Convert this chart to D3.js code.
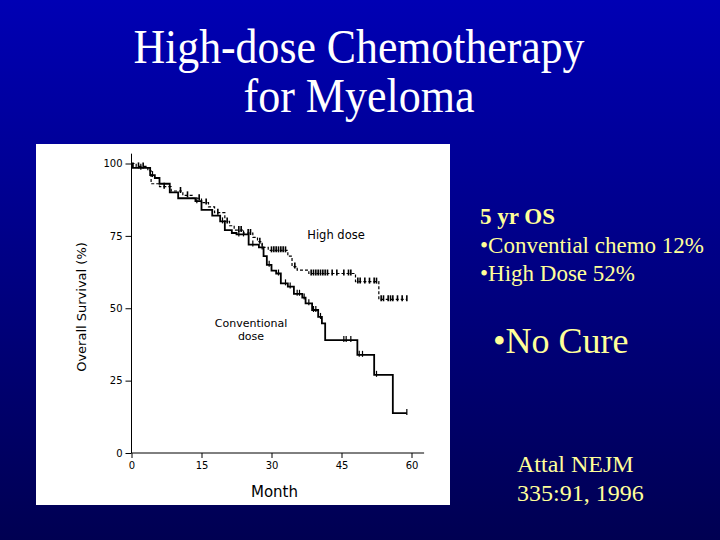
<!DOCTYPE html>
<html>
<head>
<meta charset="utf-8">
<script src="https://cdn.jsdelivr.net/npm/d3@7"></script>
<style>
  html, body { margin: 0; padding: 0; background: #000080; }
  svg { display: block; }
</style>
</head>
<body>
<svg id="slide" width="720" height="540"></svg>
<script>
// ---- data ----
const titleLines = ["High-dose Chemotherapy", "for Myeloma"]

const xTicks = [0, 15, 30, 45, 60]
const yTicks = [0, 25, 50, 75, 100]

// conventional dose: step start month / survival %
const convMonths = [0, 0.3, 4, 5, 6, 8.2, 10, 13.7, 15, 17.3, 19, 20, 21.5, 22.5, 25.1, 27.3, 28.3, 29, 30, 31, 32, 33.5, 34.8, 36.6, 37.3, 38.7, 40, 40.8, 41.5, 48.4, 52, 56]
const convSurv = [100, 98.5, 96, 95, 93, 90, 88, 87, 84, 82, 80, 77, 76, 75.5, 72, 71, 68, 65, 63, 62, 58.6, 57.5, 55, 53.7, 51.7, 49.4, 47, 44.8, 39, 33.9, 27, 13.8]
const convEnd = 59
const convCensor = [2, 4.5, 14, 19.5, 23, 24, 26, 28, 29.5, 31.5, 33, 34, 35.5, 36, 37, 38, 39, 39.5, 40.5, 45.5, 46, 47, 48.8, 49.5, 52.5, 59]

// high dose
const hdMonths = [0, 1, 3.5, 4.2, 6, 8.5, 11, 13, 15, 16.5, 17.8, 20, 21, 22, 24, 26, 27, 28, 29.3, 33.5, 34.4, 35.5, 38, 48, 53]
const hdSurv = [100, 99, 97.5, 93, 92, 90.5, 89, 88, 86.5, 85, 83, 80, 78.5, 77, 76, 74.5, 73, 71, 70, 68, 64.4, 63.2, 62, 59.2, 53.1]
const hdEnd = 59
const hdCensor = [1.5, 2.5, 7, 10.5, 12, 14.5, 16, 18.5, 20.5, 23, 23.5, 25, 25.5, 27.5, 30, 30.5, 31, 31.5, 32, 32.5, 33, 35, 38.5, 39, 39.5, 40, 40.5, 41, 41.5, 42, 43, 44, 45.5, 46.5, 47, 48.5, 49, 50, 51, 52, 52.5, 53.5, 54, 55, 55.5, 56, 57, 58, 59]

const osHeading = "5 yr OS"
const osLines = ["•Convential chemo 12%", "•High Dose 52%"]
const noCure = "•No Cure"
const citation = ["Attal NEJM", "335:91, 1996"]

// ---- drawing ----
const svg = d3.select("#slide")

const defs = svg.append("defs")
const grad = defs.append("linearGradient")
    .attr("id", "bg")
    .attr("x1", 0).attr("y1", 0).attr("x2", 0).attr("y2", 1)
grad.append("stop").attr("offset", "0%").attr("stop-color", "#0000b4")
grad.append("stop").attr("offset", "100%").attr("stop-color", "#000052")

svg.append("rect")
    .attr("width", 720)
    .attr("height", 540)
    .attr("fill", "url(#bg)")

svg.append("g")
    .selectAll("text")
    .data(titleLines)
    .join("text")
    .attr("x", 359)
    .attr("y", (d, i) => 63 + i * 49)
    .attr("text-anchor", "middle")
    .attr("font-family", "'Liberation Serif', 'Times New Roman', serif")
    .attr("font-size", 48)
    .attr("fill", "#ffffff")
    .attr("textLength", (d, i) => i == 0 ? 451 : 231)
    .attr("lengthAdjust", "spacingAndGlyphs")
    .text(d => d)

// white panel with the survival plot
svg.append("rect")
    .attr("x", 36)
    .attr("y", 144)
    .attr("width", 414)
    .attr("height", 361)
    .attr("fill", "#ffffff")

const x = d3.scaleLinear().domain([0, 60]).range([131.5, 411.5])
const y = d3.scaleLinear().domain([0, 100]).range([453, 163.5])

const plot = svg.append("g")
    .attr("font-family", "'DejaVu Sans', sans-serif")

const xAxis = plot.append("g")
    .attr("transform", `translate(0,${y(0)})`)
    .call(d3.axisBottom(x).tickValues(xTicks).tickSizeOuter(0).tickSize(5).tickPadding(4))
xAxis.select(".domain").attr("d", `M${x(0)},0H${x(62.7)}`)

const yAxis = plot.append("g")
    .attr("transform", `translate(${x(0)},0)`)
    .call(d3.axisLeft(y).tickValues(yTicks).tickSizeOuter(0).tickSize(6).tickPadding(3))
yAxis.select(".domain").attr("d", `M0,${y(0)}V${y(103.4)}`)

plot.selectAll(".tick text")
    .attr("font-size", 10)
    .attr("font-family", "'DejaVu Sans', sans-serif")
    .attr("fill", "#000")
plot.selectAll(".domain, .tick line").attr("stroke", "#000")

plot.append("text")
    .attr("x", 274.5)
    .attr("y", 497)
    .attr("text-anchor", "middle")
    .attr("font-size", 15)
    .text("Month")

plot.append("text")
    .attr("transform", "translate(86,307) rotate(-90)")
    .attr("text-anchor", "middle")
    .attr("font-size", 13)
    .text("Overall Survival (%)")

plot.append("text")
    .attr("x", 336)
    .attr("y", 239)
    .attr("text-anchor", "middle")
    .attr("font-size", 11.5)
    .text("High dose")

plot.append("g")
    .selectAll("text")
    .data(["Conventional", "dose"])
    .join("text")
    .attr("x", 251)
    .attr("y", (d, i) => 327 + i * 12.5)
    .attr("text-anchor", "middle")
    .attr("font-size", 11)
    .text(d => d)

const stepLine = d3.line()
    .curve(d3.curveStepAfter)
    .x(d => x(d[0]))
    .y(d => y(d[1]))

function stepPoints(months, surv, end) {
    const pts = months.map((m, i) => [m, surv[i]])
    pts.push([end, surv[surv.length - 1]])
    return pts
}

function survAt(months, surv, t) {
    let i = d3.bisectRight(months, t) - 1
    return surv[Math.max(0, i)]
}

plot.append("path")
    .attr("d", stepLine(stepPoints(hdMonths, hdSurv, hdEnd)))
    .attr("fill", "none")
    .attr("stroke", "#000")
    .attr("stroke-width", 1.2)
    .attr("stroke-dasharray", "3,2")

plot.append("path")
    .attr("d", stepLine(stepPoints(convMonths, convSurv, convEnd)))
    .attr("fill", "none")
    .attr("stroke", "#000")
    .attr("stroke-width", 1.8)

plot.append("g")
    .selectAll("line")
    .data(hdCensor)
    .join("line")
    .attr("x1", d => x(d))
    .attr("x2", d => x(d))
    .attr("y1", d => y(survAt(hdMonths, hdSurv, d)) - 4)
    .attr("y2", d => y(survAt(hdMonths, hdSurv, d)) + 2)
    .attr("stroke", "#000")
    .attr("stroke-width", 1.6)

plot.append("g")
    .selectAll("line")
    .data(convCensor)
    .join("line")
    .attr("x1", d => x(d))
    .attr("x2", d => x(d))
    .attr("y1", d => y(survAt(convMonths, convSurv, d)) - 4)
    .attr("y2", d => y(survAt(convMonths, convSurv, d)) + 2)
    .attr("stroke", "#000")
    .attr("stroke-width", 1.2)

// right-hand notes
const notes = svg.append("g")
    .attr("font-family", "'Liberation Serif', 'Times New Roman', serif")
    .attr("fill", "#ffff99")

notes.append("text")
    .attr("x", 480)
    .attr("y", 224)
    .attr("font-size", 23)
    .attr("font-weight", "bold")
    .text(osHeading)

notes.selectAll(".os")
    .data(osLines)
    .join("text")
    .attr("class", "os")
    .attr("x", 480)
    .attr("y", (d, i) => 253 + i * 28)
    .attr("font-size", 23)
    .text(d => d)

notes.append("text")
    .attr("x", 493)
    .attr("y", 353)
    .attr("font-size", 36)
    .text(noCure)

notes.selectAll(".cite")
    .data(citation)
    .join("text")
    .attr("class", "cite")
    .attr("x", 517)
    .attr("y", (d, i) => 472 + i * 29)
    .attr("font-size", 24)
    .text(d => d)
</script>
</body>
</html>
